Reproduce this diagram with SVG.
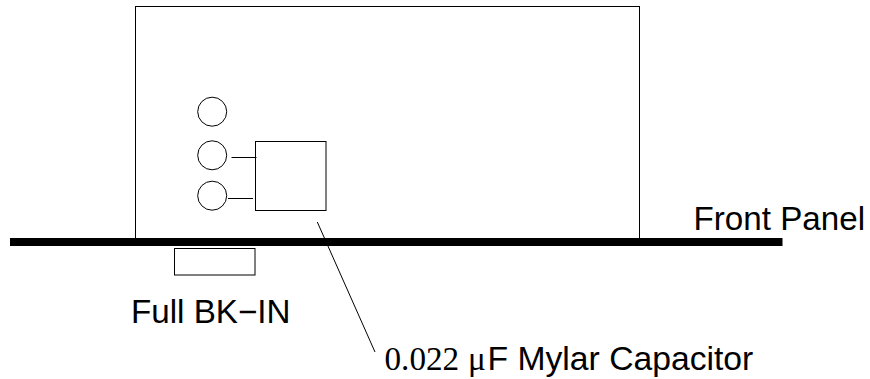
<svg xmlns="http://www.w3.org/2000/svg" width="870" height="379" viewBox="0 0 870 379">
<style>
.s{fill:none;stroke:#000;stroke-width:1}
.t{font-family:"Liberation Sans",Arial,sans-serif;font-size:33.200px;fill:#000}
.r{font-family:"Liberation Serif","Times New Roman",serif;font-size:33.200px}
</style>
<rect width="870" height="379" fill="#fff"/>
<g id="chassis"><rect class="s" x="135.500" y="6.500" width="504" height="232"/></g>
<g id="jack1"><circle class="s" cx="212.200" cy="111.700" r="14.500"/></g>
<g id="jack2"><circle class="s" cx="212.200" cy="155.300" r="14.500"/></g>
<g id="jack3"><circle class="s" cx="212.200" cy="195.700" r="14.500"/></g>
<g id="capacitor"><rect class="s" x="255.500" y="141.500" width="70.500" height="69"/></g>
<g id="panel"><rect x="10" y="238" width="772.500" height="8" fill="#000"/></g>
<g id="bkin"><rect class="s" x="174.500" y="248.500" width="80.500" height="26.500"/></g>
<g id="connectors">
<path class="s" d="M231.500 157.500H256.500M228 198.500H253M317.300 222L375 352"/>
</g>
<text class="t" x="693.500" y="229.500">Front Panel</text>
<text class="t" x="131" y="323">Full BK−IN</text>
<text class="t" y="370"><tspan class="r" x="384.500">0.022</tspan><tspan class="r" x="468" font-size="35">μ</tspan><tspan x="487.500" font-size="33.700">F Mylar Capacitor</tspan></text>
</svg>
